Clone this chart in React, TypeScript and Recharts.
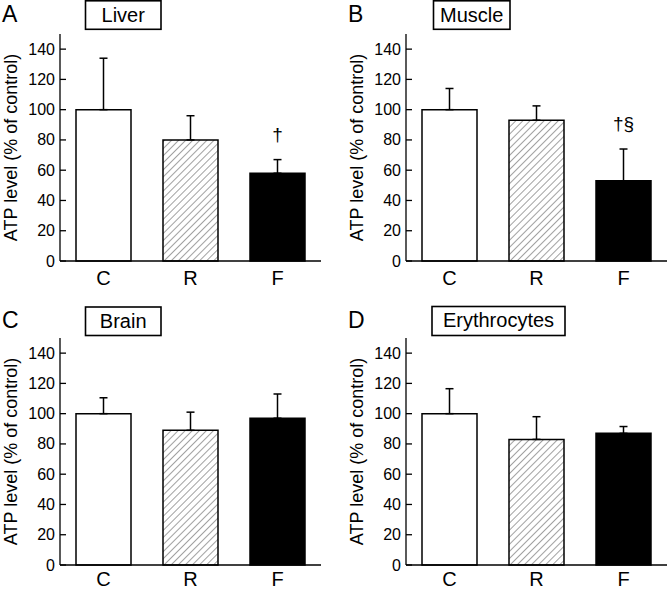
import React from 'react'
import { Bar, BarChart, Cell, ErrorBar, LabelList, XAxis, YAxis } from 'recharts'

const categories = ['C', 'R', 'F']
const yTicks = [0, 20, 40, 60, 80, 100, 120, 140]

const liverMean = [100, 80, 58]
const liverSD = [34, 16, 9]
const liverMarks = ['', '', '†']

const muscleMean = [100, 93, 53]
const muscleSD = [14, 9.5, 21]
const muscleMarks = ['', '', '†§']

const brainMean = [100, 89, 97]
const brainSD = [10.5, 12, 16]
const brainMarks = ['', '', '']

const erythMean = [100, 83, 87]
const erythSD = [16.5, 15, 4.5]
const erythMarks = ['', '', '']

const FONT = '"Liberation Sans", Arial, Helvetica, sans-serif'

const buildData = (mean: number[], sd: number[], marks: string[]) =>
  categories.map((name, i) => ({ name, value: mean[i], err: [0, sd[i]], sd: sd[i], mark: marks[i] }))

const YTick = (props: any) => {
  const { x, y, payload } = props
  const axisX = x + 5
  return (
    <g>
      <text x={x} y={y} textAnchor="end" dominantBaseline="central" fontSize={16} fontFamily={FONT} fill="#000">
        {payload.value}
      </text>
      <line x1={axisX} x2={axisX + 6} y1={y} y2={y} stroke="#000" strokeWidth={1.3} />
    </g>
  )
}

const YLabel = (props: any) => {
  const vb = props.viewBox
  const cx = vb.x + 11
  const cy = vb.y + vb.height / 2
  return (
    <text
      x={cx}
      y={cy}
      transform={`rotate(-90 ${cx} ${cy})`}
      textAnchor="middle"
      dominantBaseline="central"
      fontSize={18}
      fontFamily={FONT}
      fill="#000"
    >
      ATP level (% of control)
    </text>
  )
}

type PanelProps = {
  id: string
  data: ReturnType<typeof buildData>
  left: number
  top: number
  labelGap: number
}

const Panel = ({ id, data, left, top, labelGap }: PanelProps) => {
  const fills = ['#ffffff', `url(#hatch-${id})`, '#000000']

  const renderMark = (props: any) => {
    const vb = props.viewBox || props
    const row = data[props.index]
    if (!row || !row.mark) return null
    const bx = props.x ?? vb.x
    const by = props.y ?? vb.y
    const bw = props.width ?? vb.width
    const bh = props.height ?? vb.height
    const errTop = by - (row.sd * bh) / row.value
    return (
      <text x={bx + bw / 2} y={errTop - 19} textAnchor="middle" fontSize={19} fontFamily={FONT} fill="#000">
        {row.mark}
      </text>
    )
  }

  return (
    <div style={{ position: 'absolute', left, top }}>
      <BarChart width={321} height={295} data={data} margin={{ top: 34, right: 0, left: 0, bottom: 0 }}>
        <defs>
          <pattern id={`hatch-${id}`} patternUnits="userSpaceOnUse" width={5} height={5} patternTransform="rotate(45)">
            <rect width={5} height={5} fill="#fff" />
            <line x1={0} y1={0} x2={0} y2={5} stroke="#444" strokeWidth={1} />
          </pattern>
        </defs>
        <XAxis
          dataKey="name"
          height={34}
          tickLine={false}
          tickSize={0}
          tickMargin={labelGap}
          axisLine={{ stroke: '#000', strokeWidth: 1.3 }}
          tick={{ fontSize: 20, fontFamily: FONT, fill: '#000' }}
        />
        <YAxis
          width={60}
          domain={[0, 150]}
          ticks={yTicks}
          tickSize={0}
          tickMargin={5}
          tickLine={false}
          axisLine={{ stroke: '#000', strokeWidth: 1.3 }}
          tick={<YTick />}
          label={<YLabel />}
        />
        <Bar dataKey="value" barSize={55} stroke="#000" strokeWidth={1.5} isAnimationActive={false}>
          {data.map((_, i) => (
            <Cell key={i} fill={fills[i]} />
          ))}
          <ErrorBar dataKey="err" width={4} stroke="#000" strokeWidth={1.5} direction="y" />
          <LabelList dataKey="mark" content={renderMark} />
        </Bar>
      </BarChart>
    </div>
  )
}

const Overlay = () => (
  <svg width={668} height={590} style={{ position: 'absolute', left: 0, top: 0, pointerEvents: 'none' }}>
    <g fontFamily={FONT} fill="#000">
      <text x={2} y={21.7} fontSize={23}>A</text>
      <text x={348} y={21.7} fontSize={23}>B</text>
      <text x={2} y={328} fontSize={23}>C</text>
      <text x={348} y={328} fontSize={23}>D</text>
    </g>
    <g fill="#fff" stroke="#000" strokeWidth={1.6}>
      <rect x={85.5} y={0.8} width={75.5} height={28.5} />
      <rect x={433.5} y={0.8} width={76.5} height={28.5} />
      <rect x={85.5} y={307} width={75.5} height={28.5} />
      <rect x={432} y={306.5} width={133} height={29} />
    </g>
    <g fontFamily={FONT} fill="#000" fontSize={20} textAnchor="middle">
      <text x={123.2} y={22.3}>Liver</text>
      <text x={471.7} y={21.9}>Muscle</text>
      <text x={123.2} y={328.3}>Brain</text>
      <text x={498.5} y={327}>Erythrocytes</text>
    </g>
  </svg>
)

export default function App() {
  return (
    <div style={{ position: 'absolute', left: 0, top: 0, width: 668, height: 590, overflow: 'hidden', background: '#fff' }}>
      <Panel id="a" data={buildData(liverMean, liverSD, liverMarks)} left={0} top={0} labelGap={10} />
      <Panel id="b" data={buildData(muscleMean, muscleSD, muscleMarks)} left={346} top={0} labelGap={10} />
      <Panel id="c" data={buildData(brainMean, brainSD, brainMarks)} left={0} top={304} labelGap={7} />
      <Panel id="d" data={buildData(erythMean, erythSD, erythMarks)} left={346} top={304} labelGap={7} />
      <Overlay />
    </div>
  )
}
